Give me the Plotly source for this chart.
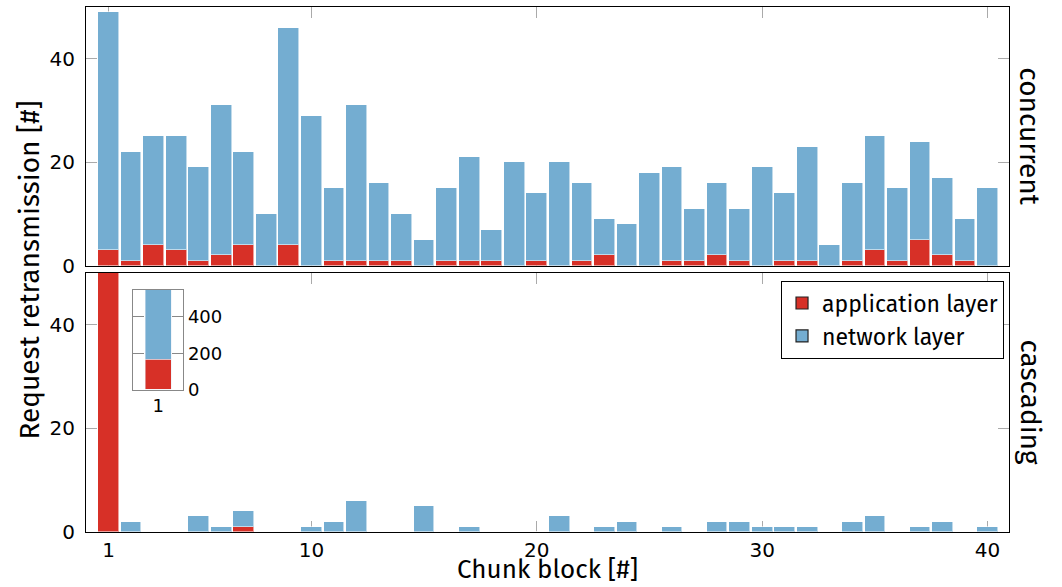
import plotly.graph_objects as go

blocks = list(range(1, 41))

# concurrent: application-layer and total retransmissions per chunk block
conc_total = [49, 22, 25, 25, 19, 31, 22, 10, 46, 29, 15, 31, 16, 10, 5, 15, 21, 7, 20, 14,
              20, 16, 9, 8, 18, 19, 11, 16, 11, 19, 14, 23, 4, 16, 25, 15, 24, 17, 9, 15]
conc_app = [3, 1, 4, 3, 1, 2, 4, 0, 4, 0, 1, 1, 1, 1, 0, 1, 1, 1, 0, 1,
            0, 1, 2, 0, 0, 1, 1, 2, 1, 0, 1, 1, 0, 1, 3, 1, 5, 2, 1, 0]
conc_net = [t - a for t, a in zip(conc_total, conc_app)]

# cascading
casc_total = [550, 2, 0, 0, 3, 1, 4, 0, 0, 1, 2, 6, 0, 0, 5, 0, 1, 0, 0, 0,
              3, 0, 1, 2, 0, 1, 0, 2, 2, 1, 1, 1, 0, 2, 3, 0, 1, 2, 0, 1]
casc_app = [165, 0, 0, 0, 0, 0, 1, 0, 0, 0, 0, 0, 0, 0, 0, 0, 0, 0, 0, 0,
            0, 0, 0, 0, 0, 0, 0, 0, 0, 0, 0, 0, 0, 0, 0, 0, 0, 0, 0, 0]
casc_net = [t - a for t, a in zip(casc_total, casc_app)]

x_ticks = [1, 10, 20, 30, 40]
y_ticks = [0, 20, 40]
inset_ticks = [0, 200, 400]
series_names = ["application layer", "network layer"]

RED = "#d73027"
BLUE = "#74add1"
EDGE = dict(color="rgba(255,255,255,0.55)", width=1)
FONT = "Fira Sans, Open Sans, sans-serif"
TICKFONT = "DejaVu Sans, sans-serif"
W = 0.92

fig = go.Figure()
# top panel (concurrent)
fig.add_trace(go.Bar(x=blocks, y=conc_app, marker=dict(color=RED, line=EDGE),
                     width=W, xaxis="x2", yaxis="y2", showlegend=False))
fig.add_trace(go.Bar(x=blocks, y=conc_net, marker=dict(color=BLUE, line=EDGE),
                     width=W, xaxis="x2", yaxis="y2", showlegend=False))
# bottom panel (cascading)
fig.add_trace(go.Bar(x=blocks, y=casc_app, marker=dict(color=RED, line=EDGE),
                     width=W, xaxis="x", yaxis="y", showlegend=False))
fig.add_trace(go.Bar(x=blocks, y=casc_net, marker=dict(color=BLUE, line=EDGE),
                     width=W, xaxis="x", yaxis="y", showlegend=False))
# inset
fig.add_trace(go.Bar(x=blocks[:1], y=casc_app[:1], marker=dict(color=RED), width=0.9,
                     xaxis="x3", yaxis="y3", showlegend=False))
fig.add_trace(go.Bar(x=blocks[:1], y=casc_net[:1], marker=dict(color=BLUE), width=0.9,
                     xaxis="x3", yaxis="y3", showlegend=False))
# legend entries (swatches with dark border)
for nm, col in zip(series_names, [RED, BLUE]):
    fig.add_trace(go.Bar(x=[None], y=[None], name=nm, xaxis="x", yaxis="y",
                         marker=dict(color=col, line=dict(color="#222222", width=1.2))))

axis_common = dict(showline=True, linecolor="black", linewidth=1, mirror="ticks",
                   ticks="inside", ticklen=11, tickcolor="#aaaaaa", tickwidth=1,
                   showgrid=False, zeroline=False, layer="below traces",
                   tickfont=dict(family=TICKFONT, size=20, color="black"))

fig.update_layout(
    width=1062, height=587,
    margin=dict(l=86, r=53, t=7, b=55),
    plot_bgcolor="white", paper_bgcolor="white",
    barmode="stack", bargap=0,
    font=dict(family=FONT, color="black"),
    xaxis=dict(domain=[0, 1], range=[0, 40.95], anchor="y", tickvals=x_ticks, **axis_common),
    yaxis=dict(domain=[0, 0.4933], range=[0, 50], anchor="x", tickvals=y_ticks, ticklabelstandoff=6,
               **axis_common),
    xaxis2=dict(domain=[0, 1], range=[0, 40.95], anchor="y2", tickvals=x_ticks, showticklabels=False,
                **axis_common),
    yaxis2=dict(domain=[0.5072, 1], range=[0, 50], anchor="x2", tickvals=y_ticks, ticklabelstandoff=6,
                **axis_common),
    xaxis3=dict(domain=[0.0513, 0.1054], range=[0.135, 1.865], anchor="y3", tickvals=[1],
                showline=True, linecolor="#888888", linewidth=1, mirror=True, ticks="",
                showgrid=False, zeroline=False,
                tickfont=dict(family=TICKFONT, size=18, color="black")),
    yaxis3=dict(domain=[0.271, 0.4615], range=[0, 550], anchor="x3", side="right", tickvals=inset_ticks,
                showline=True, linecolor="#888888", linewidth=1, mirror="ticks", ticks="inside",
                ticklen=11, tickcolor="#888888", showgrid=False, zeroline=False, layer="below traces",
                tickfont=dict(family=TICKFONT, size=18, color="black")),
    legend=dict(x=0.753, y=0.479, xanchor="left", yanchor="top", bgcolor="white",
                bordercolor="black", borderwidth=1, traceorder="normal", tracegroupgap=0,
                font=dict(family=FONT, size=23, color="black")),
    annotations=[
        dict(text="Request retransmission [#]", xref="paper", yref="paper", x=-0.0607, y=0.5,
             textangle=-90, showarrow=False, xanchor="center", yanchor="middle",
             font=dict(family=FONT, size=28)),
        dict(text="Chunk block [#]", xref="paper", yref="paper", x=0.5, y=-0.0718,
             showarrow=False, xanchor="center", yanchor="middle", font=dict(family=FONT, size=26)),
        dict(text="concurrent", xref="paper", yref="paper", x=1.0228, y=0.7536, textangle=90,
             showarrow=False, xanchor="center", yanchor="middle", font=dict(family=FONT, size=28)),
        dict(text="cascading", xref="paper", yref="paper", x=1.0228, y=0.2467, textangle=90,
             showarrow=False, xanchor="center", yanchor="middle", font=dict(family=FONT, size=28)),
    ],
)

fig.write_html("out.html", post_script="document.body.style.margin='0';",
               config={"displayModeBar": False})
